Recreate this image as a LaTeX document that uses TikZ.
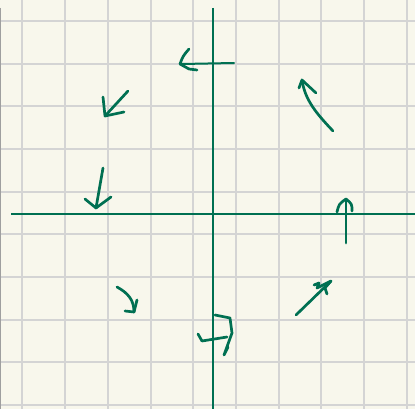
\documentclass[tikz,border=0pt]{standalone}
\usepackage{xcolor}
\usepackage{tikz}
\definecolor{paper}{RGB}{248,247,236}
\definecolor{gridgray}{RGB}{212,212,212}
\definecolor{inkgreen}{RGB}{0,112,82}
\tikzset{
  gridline/.style={draw=gridgray,line width=1.6pt},
  axisline/.style={draw=inkgreen,line width=2pt},
  inkstroke/.style={draw=inkgreen,line width=2.7pt,line cap=round,line join=round}
}

\begin{document}
\begin{tikzpicture}[x=1pt,y=-1pt]
  \fill[paper] (0,0) rectangle (415,409);
  \useasboundingbox (0,0) rectangle (415,409);
  \foreach \gx in {22,65,108,151,193,236,279,321,364,407}
    \draw[gridline] (\gx,0) -- (\gx,409);
  \foreach \gy in {21,64,106,149,192,234,277,320,362,405}
    \draw[gridline] (0,\gy) -- (415,\gy);
  \draw[draw=gray!75,line width=1.5pt] (0.5,8) -- (0.5,409);
  % axes
  \coordinate (ytop) at (213,8);
  \coordinate (ybot) at (213,409);
  \coordinate (xleft) at (11,213.5);
  \coordinate (xright) at (415,213.5);
  \draw[axisline] (ytop) -- (ybot);
  \draw[axisline] (xleft) -- (xright);
  % field arrows
  \draw[axisline,line cap=round] (234,63) -- (182,64);
  \draw[inkstroke] (189,49) .. controls (183,56) .. (180,64) -- (189,69) -- (197,70);
  \draw[inkstroke] (128,91) -- (105,116);
  \draw[inkstroke] (103,97) -- (105,116) -- (124,112);
  \draw[inkstroke] (103,168) -- (96,208);
  \draw[inkstroke] (85,199) -- (96,208) -- (111,197);
  \draw[inkstroke] (333,131) .. controls (316,113) and (305,100) .. (302,80);
  \draw[inkstroke] (299,88) -- (302,80) -- (316,93);
  \draw[inkstroke] (346,243) -- (346,200);
  \draw[inkstroke] (337,212) .. controls (339,204) .. (346,199) .. controls (352,204) .. (352,211);
  \draw[inkstroke] (117,287) .. controls (128,293) and (134,300) .. (134,312);
  \draw[inkstroke] (137,300) -- (134,312) -- (125,311);
  \draw[inkstroke] (215,315) -- (230,318) -- (232,333) -- (224,355) -- (228,347);
  \draw[inkstroke] (198,334) -- (202,341) -- (227,337);
  \draw[inkstroke] (296,315) -- (331,281);
  \draw[inkstroke] (314,285) -- (319,283) -- (317,288) -- (331,281) -- (325,288) -- (327,294);
\end{tikzpicture}
\end{document}
